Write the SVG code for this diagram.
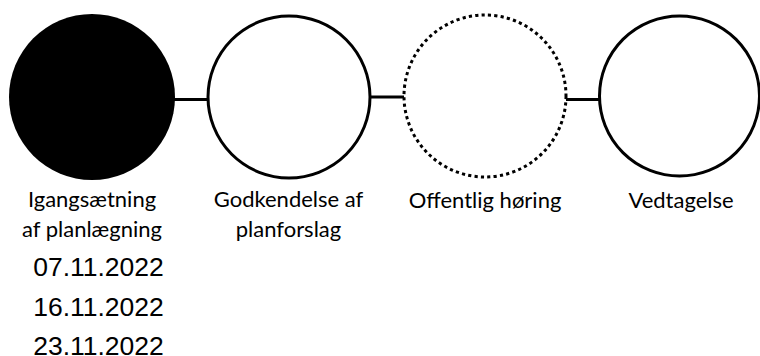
<svg xmlns="http://www.w3.org/2000/svg" width="760" height="356" viewBox="0 0 760 356">
<style>
.c{fill:#fff;stroke:#000;stroke-width:3}
.dot{stroke-dasharray:3.2 3.2}
.lbl{font-family:Lato,"Open Sans",sans-serif;font-size:22px;fill:#000;text-anchor:middle}
.date{font-family:"Liberation Sans",Arial,sans-serif;font-size:26.5px;fill:#000;text-anchor:middle}
.conn line{stroke:#000;stroke-width:3}
</style>
<rect width="760" height="356" fill="#fff"/>
<g id="connectors" class="conn">
<line x1="174" y1="99.5" x2="208" y2="99.5"/>
<line x1="370" y1="97" x2="404" y2="97"/>
<line x1="566" y1="99.5" x2="600" y2="99.5"/>
</g>
<g id="node1">
<circle cx="92" cy="97" r="83" fill="#000"/>
<text class="lbl" x="92" y="207">Igangsætning</text>
<text class="lbl" x="92" y="237">af planlægning</text>
<text class="date" x="98.5" y="276">07.11.2022</text>
<text class="date" x="98.5" y="315.5">16.11.2022</text>
<text class="date" x="98.5" y="354.5">23.11.2022</text>
</g>
<g id="node2">
<circle class="c" cx="289" cy="97" r="81"/>
<text class="lbl" x="288.5" y="207">Godkendelse af</text>
<text class="lbl" x="288.5" y="237">planforslag</text>
</g>
<g id="node3">
<circle class="c dot" cx="485" cy="96" r="81"/>
<text class="lbl" x="485" y="208">Offentlig høring</text>
</g>
<g id="node4">
<circle class="c" cx="679.5" cy="96" r="80"/>
<text class="lbl" x="681" y="208">Vedtagelse</text>
</g>
</svg>
